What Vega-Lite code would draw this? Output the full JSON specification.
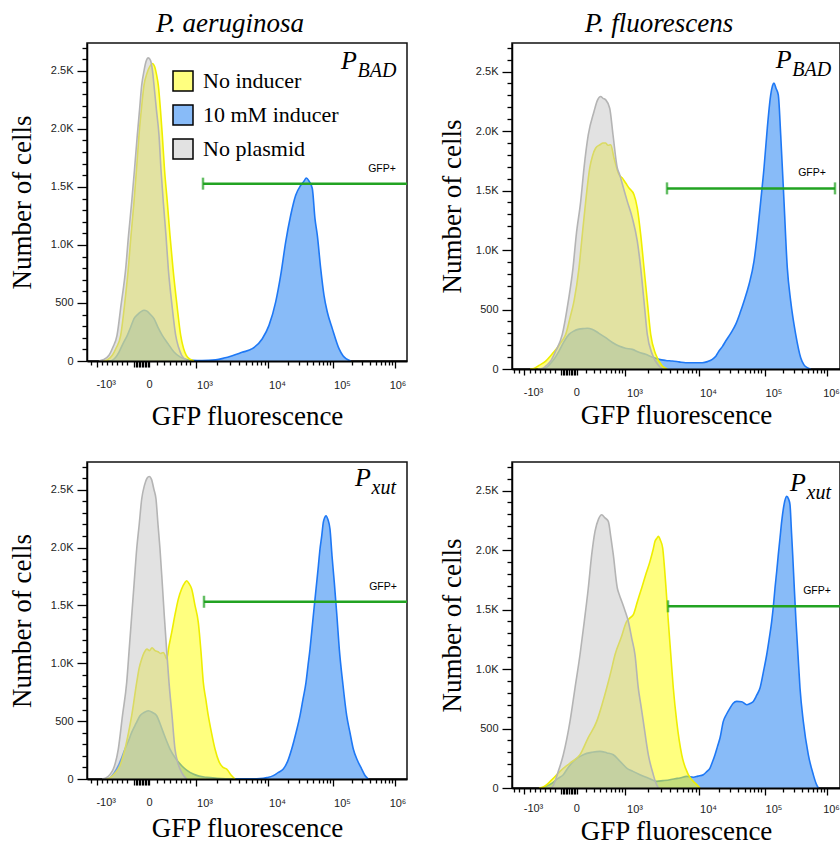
{
"$schema": "https://vega.github.io/schema/vega-lite/v6.json",
"background": "white",
"padding": {"left": 7, "top": 8, "right": 0, "bottom": 0},
"config": {
  "view": {"stroke": "#111", "strokeWidth": 1.5},
  "axis": {"labelFont": "Liberation Sans", "labelFontSize": 11, "labelColor": "#222", "titleFont": "Liberation Serif", "titleFontSize": 27, "titleFontWeight": "normal", "titleColor": "black", "domainColor": "black", "tickColor": "black", "tickWidth": 1.3, "grid": false},
  "axisX": {"domainWidth": 2, "labelPadding": 11},
  "axisY": {"domainWidth": 1.5, "labelPadding": 4},
  "title": {"font": "Liberation Serif", "fontSize": 27, "fontStyle": "italic", "fontWeight": "normal", "color": "black", "dx": -17, "offset": 4},
  "text": {"color": "black"}
},
"datasets": {
"gate": [
{"p":"TL","x1":116,"x2":335,"y":1528},
{"p":"TR","x1":155,"x2":323,"y":1518},
{"p":"BL","x1":117,"x2":335,"y":1532},
{"p":"BR","x1":156,"x2":335,"y":1527}
],
"hist": [
{"p":"TL","s":"No plasmid","x":12,"n":0},{"p":"TL","s":"No plasmid","x":16,"n":10},{"p":"TL","s":"No plasmid","x":22,"n":49},{"p":"TL","s":"No plasmid","x":26,"n":120},{"p":"TL","s":"No plasmid","x":30,"n":221},{"p":"TL","s":"No plasmid","x":34,"n":480},{"p":"TL","s":"No plasmid","x":38.7,"n":796},{"p":"TL","s":"No plasmid","x":41.5,"n":1080},{"p":"TL","s":"No plasmid","x":44.7,"n":1371},{"p":"TL","s":"No plasmid","x":47.5,"n":1650},{"p":"TL","s":"No plasmid","x":50.3,"n":1946},{"p":"TL","s":"No plasmid","x":52.5,"n":2160},{"p":"TL","s":"No plasmid","x":54.7,"n":2377},{"p":"TL","s":"No plasmid","x":57,"n":2500},{"p":"TL","s":"No plasmid","x":59,"n":2580},{"p":"TL","s":"No plasmid","x":61.3,"n":2612},{"p":"TL","s":"No plasmid","x":63.5,"n":2590},{"p":"TL","s":"No plasmid","x":65.5,"n":2500},{"p":"TL","s":"No plasmid","x":67,"n":2377},{"p":"TL","s":"No plasmid","x":69.5,"n":2160},{"p":"TL","s":"No plasmid","x":72,"n":1946},{"p":"TL","s":"No plasmid","x":74,"n":1650},{"p":"TL","s":"No plasmid","x":76.3,"n":1371},{"p":"TL","s":"No plasmid","x":79,"n":1080},{"p":"TL","s":"No plasmid","x":81.3,"n":796},{"p":"TL","s":"No plasmid","x":85,"n":480},{"p":"TL","s":"No plasmid","x":88.7,"n":221},{"p":"TL","s":"No plasmid","x":91.5,"n":120},{"p":"TL","s":"No plasmid","x":94.7,"n":49},{"p":"TL","s":"No plasmid","x":98.7,"n":10},{"p":"TL","s":"No plasmid","x":102,"n":0},
{"p":"TL","s":"No inducer","x":16,"n":0},{"p":"TL","s":"No inducer","x":20,"n":8},{"p":"TL","s":"No inducer","x":25.3,"n":49},{"p":"TL","s":"No inducer","x":29,"n":110},{"p":"TL","s":"No inducer","x":33.7,"n":221},{"p":"TL","s":"No inducer","x":37.5,"n":480},{"p":"TL","s":"No inducer","x":41.3,"n":796},{"p":"TL","s":"No inducer","x":44,"n":1080},{"p":"TL","s":"No inducer","x":47,"n":1371},{"p":"TL","s":"No inducer","x":49.5,"n":1650},{"p":"TL","s":"No inducer","x":52,"n":1946},{"p":"TL","s":"No inducer","x":54.5,"n":2180},{"p":"TL","s":"No inducer","x":57,"n":2377},{"p":"TL","s":"No inducer","x":60,"n":2480},{"p":"TL","s":"No inducer","x":63,"n":2540},{"p":"TL","s":"No inducer","x":65.3,"n":2563},{"p":"TL","s":"No inducer","x":67.5,"n":2540},{"p":"TL","s":"No inducer","x":69.5,"n":2470},{"p":"TL","s":"No inducer","x":71.3,"n":2377},{"p":"TL","s":"No inducer","x":73.5,"n":2160},{"p":"TL","s":"No inducer","x":75.3,"n":1946},{"p":"TL","s":"No inducer","x":77.5,"n":1650},{"p":"TL","s":"No inducer","x":80.3,"n":1371},{"p":"TL","s":"No inducer","x":83,"n":1080},{"p":"TL","s":"No inducer","x":86,"n":796},{"p":"TL","s":"No inducer","x":90,"n":480},{"p":"TL","s":"No inducer","x":93.7,"n":221},{"p":"TL","s":"No inducer","x":96.5,"n":110},{"p":"TL","s":"No inducer","x":99.3,"n":49},{"p":"TL","s":"No inducer","x":103,"n":15},{"p":"TL","s":"No inducer","x":107,"n":0},
{"p":"TL","s":"10 mM inducer","x":22,"n":0},{"p":"TL","s":"10 mM inducer","x":25,"n":5},{"p":"TL","s":"10 mM inducer","x":28.5,"n":30},{"p":"TL","s":"10 mM inducer","x":32,"n":77},{"p":"TL","s":"10 mM inducer","x":36,"n":150},{"p":"TL","s":"10 mM inducer","x":40.3,"n":221},{"p":"TL","s":"10 mM inducer","x":44,"n":300},{"p":"TL","s":"10 mM inducer","x":47,"n":365},{"p":"TL","s":"10 mM inducer","x":50.5,"n":400},{"p":"TL","s":"10 mM inducer","x":54,"n":425},{"p":"TL","s":"10 mM inducer","x":57,"n":437},{"p":"TL","s":"10 mM inducer","x":60,"n":430},{"p":"TL","s":"10 mM inducer","x":63,"n":405},{"p":"TL","s":"10 mM inducer","x":67,"n":365},{"p":"TL","s":"10 mM inducer","x":71,"n":290},{"p":"TL","s":"10 mM inducer","x":75.3,"n":221},{"p":"TL","s":"10 mM inducer","x":81,"n":150},{"p":"TL","s":"10 mM inducer","x":87,"n":77},{"p":"TL","s":"10 mM inducer","x":93,"n":35},{"p":"TL","s":"10 mM inducer","x":98.7,"n":15},{"p":"TL","s":"10 mM inducer","x":105,"n":6},{"p":"TL","s":"10 mM inducer","x":115,"n":4},{"p":"TL","s":"10 mM inducer","x":128.7,"n":10},{"p":"TL","s":"10 mM inducer","x":137,"n":25},{"p":"TL","s":"10 mM inducer","x":145.3,"n":46},{"p":"TL","s":"10 mM inducer","x":155,"n":75},{"p":"TL","s":"10 mM inducer","x":165.3,"n":106},{"p":"TL","s":"10 mM inducer","x":175.3,"n":192},{"p":"TL","s":"10 mM inducer","x":182,"n":307},{"p":"TL","s":"10 mM inducer","x":188.7,"n":509},{"p":"TL","s":"10 mM inducer","x":193.7,"n":739},{"p":"TL","s":"10 mM inducer","x":198.7,"n":1027},{"p":"TL","s":"10 mM inducer","x":203.7,"n":1256},{"p":"TL","s":"10 mM inducer","x":208.7,"n":1428},{"p":"TL","s":"10 mM inducer","x":213.7,"n":1514},{"p":"TL","s":"10 mM inducer","x":217,"n":1550},{"p":"TL","s":"10 mM inducer","x":219.3,"n":1577},{"p":"TL","s":"10 mM inducer","x":222,"n":1550},{"p":"TL","s":"10 mM inducer","x":225.3,"n":1486},{"p":"TL","s":"10 mM inducer","x":228,"n":1225},{"p":"TL","s":"10 mM inducer","x":230.3,"n":1084},{"p":"TL","s":"10 mM inducer","x":233.7,"n":796},{"p":"TL","s":"10 mM inducer","x":237,"n":566},{"p":"TL","s":"10 mM inducer","x":240.3,"n":422},{"p":"TL","s":"10 mM inducer","x":245.3,"n":279},{"p":"TL","s":"10 mM inducer","x":252,"n":106},{"p":"TL","s":"10 mM inducer","x":256,"n":45},{"p":"TL","s":"10 mM inducer","x":259,"n":20},{"p":"TL","s":"10 mM inducer","x":263.7,"n":0},
{"p":"TR","s":"No plasmid","x":26,"n":0},{"p":"TR","s":"No plasmid","x":30.3,"n":5},{"p":"TR","s":"No plasmid","x":34.5,"n":30},{"p":"TR","s":"No plasmid","x":38.7,"n":67},{"p":"TR","s":"No plasmid","x":43.7,"n":151},{"p":"TR","s":"No plasmid","x":50.3,"n":291},{"p":"TR","s":"No plasmid","x":56.3,"n":570},{"p":"TR","s":"No plasmid","x":61,"n":850},{"p":"TR","s":"No plasmid","x":64.3,"n":1130},{"p":"TR","s":"No plasmid","x":68.7,"n":1409},{"p":"TR","s":"No plasmid","x":72,"n":1689},{"p":"TR","s":"No plasmid","x":76.3,"n":1969},{"p":"TR","s":"No plasmid","x":82,"n":2164},{"p":"TR","s":"No plasmid","x":85.5,"n":2260},{"p":"TR","s":"No plasmid","x":88.7,"n":2290},{"p":"TR","s":"No plasmid","x":91,"n":2275},{"p":"TR","s":"No plasmid","x":93.7,"n":2262},{"p":"TR","s":"No plasmid","x":97.7,"n":2192},{"p":"TR","s":"No plasmid","x":101,"n":1969},{"p":"TR","s":"No plasmid","x":105.3,"n":1689},{"p":"TR","s":"No plasmid","x":107.7,"n":1633},{"p":"TR","s":"No plasmid","x":111.5,"n":1520},{"p":"TR","s":"No plasmid","x":115.3,"n":1409},{"p":"TR","s":"No plasmid","x":120.3,"n":1270},{"p":"TR","s":"No plasmid","x":125.3,"n":1074},{"p":"TR","s":"No plasmid","x":128.7,"n":850},{"p":"TR","s":"No plasmid","x":132,"n":570},{"p":"TR","s":"No plasmid","x":135.3,"n":291},{"p":"TR","s":"No plasmid","x":140.3,"n":123},{"p":"TR","s":"No plasmid","x":147,"n":25},{"p":"TR","s":"No plasmid","x":150.3,"n":0},
{"p":"TR","s":"No inducer","x":18,"n":0},{"p":"TR","s":"No inducer","x":22,"n":5},{"p":"TR","s":"No inducer","x":27,"n":30},{"p":"TR","s":"No inducer","x":33.7,"n":67},{"p":"TR","s":"No inducer","x":39.5,"n":120},{"p":"TR","s":"No inducer","x":45.3,"n":179},{"p":"TR","s":"No inducer","x":49.5,"n":230},{"p":"TR","s":"No inducer","x":53.7,"n":291},{"p":"TR","s":"No inducer","x":58,"n":430},{"p":"TR","s":"No inducer","x":62,"n":570},{"p":"TR","s":"No inducer","x":67,"n":850},{"p":"TR","s":"No inducer","x":70.3,"n":1130},{"p":"TR","s":"No inducer","x":73.7,"n":1409},{"p":"TR","s":"No inducer","x":77.7,"n":1689},{"p":"TR","s":"No inducer","x":80.5,"n":1790},{"p":"TR","s":"No inducer","x":83.7,"n":1857},{"p":"TR","s":"No inducer","x":88,"n":1885},{"p":"TR","s":"No inducer","x":91,"n":1900},{"p":"TR","s":"No inducer","x":93.7,"n":1899},{"p":"TR","s":"No inducer","x":96,"n":1880},{"p":"TR","s":"No inducer","x":98.7,"n":1885},{"p":"TR","s":"No inducer","x":102,"n":1773},{"p":"TR","s":"No inducer","x":107,"n":1633},{"p":"TR","s":"No inducer","x":110.3,"n":1605},{"p":"TR","s":"No inducer","x":113.7,"n":1563},{"p":"TR","s":"No inducer","x":117,"n":1521},{"p":"TR","s":"No inducer","x":122,"n":1465},{"p":"TR","s":"No inducer","x":125.3,"n":1353},{"p":"TR","s":"No inducer","x":128.7,"n":1130},{"p":"TR","s":"No inducer","x":132,"n":850},{"p":"TR","s":"No inducer","x":135.3,"n":570},{"p":"TR","s":"No inducer","x":138.7,"n":291},{"p":"TR","s":"No inducer","x":143.7,"n":123},{"p":"TR","s":"No inducer","x":150.3,"n":25},{"p":"TR","s":"No inducer","x":155.3,"n":0},
{"p":"TR","s":"10 mM inducer","x":30,"n":0},{"p":"TR","s":"10 mM inducer","x":33.7,"n":8},{"p":"TR","s":"10 mM inducer","x":40,"n":60},{"p":"TR","s":"10 mM inducer","x":47,"n":151},{"p":"TR","s":"10 mM inducer","x":52,"n":230},{"p":"TR","s":"10 mM inducer","x":57,"n":291},{"p":"TR","s":"10 mM inducer","x":62,"n":320},{"p":"TR","s":"10 mM inducer","x":67,"n":335},{"p":"TR","s":"10 mM inducer","x":72,"n":340},{"p":"TR","s":"10 mM inducer","x":75.3,"n":342},{"p":"TR","s":"10 mM inducer","x":80,"n":335},{"p":"TR","s":"10 mM inducer","x":87,"n":300},{"p":"TR","s":"10 mM inducer","x":93.7,"n":263},{"p":"TR","s":"10 mM inducer","x":100,"n":225},{"p":"TR","s":"10 mM inducer","x":107,"n":193},{"p":"TR","s":"10 mM inducer","x":113.5,"n":175},{"p":"TR","s":"10 mM inducer","x":120.3,"n":165},{"p":"TR","s":"10 mM inducer","x":127,"n":140},{"p":"TR","s":"10 mM inducer","x":133.7,"n":123},{"p":"TR","s":"10 mM inducer","x":140,"n":100},{"p":"TR","s":"10 mM inducer","x":147,"n":81},{"p":"TR","s":"10 mM inducer","x":153.7,"n":72},{"p":"TR","s":"10 mM inducer","x":160.3,"n":67},{"p":"TR","s":"10 mM inducer","x":167,"n":60},{"p":"TR","s":"10 mM inducer","x":173.7,"n":53},{"p":"TR","s":"10 mM inducer","x":182,"n":52},{"p":"TR","s":"10 mM inducer","x":190.3,"n":53},{"p":"TR","s":"10 mM inducer","x":195.5,"n":62},{"p":"TR","s":"10 mM inducer","x":200.3,"n":81},{"p":"TR","s":"10 mM inducer","x":204,"n":110},{"p":"TR","s":"10 mM inducer","x":207,"n":151},{"p":"TR","s":"10 mM inducer","x":210.5,"n":190},{"p":"TR","s":"10 mM inducer","x":213.7,"n":235},{"p":"TR","s":"10 mM inducer","x":218.7,"n":300},{"p":"TR","s":"10 mM inducer","x":223.7,"n":375},{"p":"TR","s":"10 mM inducer","x":228,"n":470},{"p":"TR","s":"10 mM inducer","x":232,"n":570},{"p":"TR","s":"10 mM inducer","x":237,"n":710},{"p":"TR","s":"10 mM inducer","x":242,"n":906},{"p":"TR","s":"10 mM inducer","x":245.3,"n":1130},{"p":"TR","s":"10 mM inducer","x":248.7,"n":1409},{"p":"TR","s":"10 mM inducer","x":252,"n":1689},{"p":"TR","s":"10 mM inducer","x":255.3,"n":2025},{"p":"TR","s":"10 mM inducer","x":258.7,"n":2304},{"p":"TR","s":"10 mM inducer","x":260.5,"n":2380},{"p":"TR","s":"10 mM inducer","x":262,"n":2403},{"p":"TR","s":"10 mM inducer","x":264,"n":2360},{"p":"TR","s":"10 mM inducer","x":266.3,"n":2304},{"p":"TR","s":"10 mM inducer","x":268.7,"n":1969},{"p":"TR","s":"10 mM inducer","x":272,"n":1409},{"p":"TR","s":"10 mM inducer","x":275.3,"n":850},{"p":"TR","s":"10 mM inducer","x":278.7,"n":570},{"p":"TR","s":"10 mM inducer","x":283.7,"n":291},{"p":"TR","s":"10 mM inducer","x":288.7,"n":95},{"p":"TR","s":"10 mM inducer","x":292,"n":35},{"p":"TR","s":"10 mM inducer","x":295.3,"n":11},{"p":"TR","s":"10 mM inducer","x":299,"n":0},
{"p":"BL","s":"No plasmid","x":15,"n":0},{"p":"BL","s":"No plasmid","x":19,"n":10},{"p":"BL","s":"No plasmid","x":26.3,"n":86},{"p":"BL","s":"No plasmid","x":31.3,"n":259},{"p":"BL","s":"No plasmid","x":35.5,"n":550},{"p":"BL","s":"No plasmid","x":39.7,"n":835},{"p":"BL","s":"No plasmid","x":42.2,"n":1120},{"p":"BL","s":"No plasmid","x":44.7,"n":1411},{"p":"BL","s":"No plasmid","x":47.2,"n":1700},{"p":"BL","s":"No plasmid","x":49.7,"n":1988},{"p":"BL","s":"No plasmid","x":52.2,"n":2200},{"p":"BL","s":"No plasmid","x":54.7,"n":2420},{"p":"BL","s":"No plasmid","x":57.5,"n":2540},{"p":"BL","s":"No plasmid","x":60,"n":2600},{"p":"BL","s":"No plasmid","x":62.3,"n":2615},{"p":"BL","s":"No plasmid","x":64.5,"n":2590},{"p":"BL","s":"No plasmid","x":67,"n":2500},{"p":"BL","s":"No plasmid","x":69,"n":2420},{"p":"BL","s":"No plasmid","x":71,"n":2200},{"p":"BL","s":"No plasmid","x":73,"n":1988},{"p":"BL","s":"No plasmid","x":75.2,"n":1700},{"p":"BL","s":"No plasmid","x":77.3,"n":1411},{"p":"BL","s":"No plasmid","x":79.6,"n":1120},{"p":"BL","s":"No plasmid","x":82,"n":835},{"p":"BL","s":"No plasmid","x":85,"n":550},{"p":"BL","s":"No plasmid","x":88,"n":259},{"p":"BL","s":"No plasmid","x":90.5,"n":150},{"p":"BL","s":"No plasmid","x":93,"n":86},{"p":"BL","s":"No plasmid","x":96.5,"n":30},{"p":"BL","s":"No plasmid","x":99.7,"n":0},
{"p":"BL","s":"No inducer","x":19,"n":0},{"p":"BL","s":"No inducer","x":23,"n":10},{"p":"BL","s":"No inducer","x":28,"n":50},{"p":"BL","s":"No inducer","x":33,"n":115},{"p":"BL","s":"No inducer","x":38,"n":259},{"p":"BL","s":"No inducer","x":41.5,"n":400},{"p":"BL","s":"No inducer","x":44.7,"n":547},{"p":"BL","s":"No inducer","x":49.7,"n":835},{"p":"BL","s":"No inducer","x":52.2,"n":960},{"p":"BL","s":"No inducer","x":54.7,"n":1037},{"p":"BL","s":"No inducer","x":57,"n":1090},{"p":"BL","s":"No inducer","x":60,"n":1123},{"p":"BL","s":"No inducer","x":62.5,"n":1110},{"p":"BL","s":"No inducer","x":65,"n":1135},{"p":"BL","s":"No inducer","x":68,"n":1110},{"p":"BL","s":"No inducer","x":71,"n":1100},{"p":"BL","s":"No inducer","x":73.5,"n":1085},{"p":"BL","s":"No inducer","x":76.3,"n":1094},{"p":"BL","s":"No inducer","x":78,"n":1070},{"p":"BL","s":"No inducer","x":79.7,"n":1037},{"p":"BL","s":"No inducer","x":82,"n":1150},{"p":"BL","s":"No inducer","x":84.7,"n":1267},{"p":"BL","s":"No inducer","x":88,"n":1420},{"p":"BL","s":"No inducer","x":91.3,"n":1555},{"p":"BL","s":"No inducer","x":94.5,"n":1640},{"p":"BL","s":"No inducer","x":98,"n":1699},{"p":"BL","s":"No inducer","x":99.7,"n":1714},{"p":"BL","s":"No inducer","x":102,"n":1690},{"p":"BL","s":"No inducer","x":104.7,"n":1642},{"p":"BL","s":"No inducer","x":108,"n":1500},{"p":"BL","s":"No inducer","x":111.3,"n":1354},{"p":"BL","s":"No inducer","x":114,"n":1100},{"p":"BL","s":"No inducer","x":116.3,"n":835},{"p":"BL","s":"No inducer","x":118.8,"n":690},{"p":"BL","s":"No inducer","x":121.3,"n":547},{"p":"BL","s":"No inducer","x":124.5,"n":400},{"p":"BL","s":"No inducer","x":128,"n":259},{"p":"BL","s":"No inducer","x":132,"n":150},{"p":"BL","s":"No inducer","x":136,"n":100},{"p":"BL","s":"No inducer","x":139.7,"n":86},{"p":"BL","s":"No inducer","x":144,"n":35},{"p":"BL","s":"No inducer","x":148,"n":0},
{"p":"BL","s":"10 mM inducer","x":19,"n":0},{"p":"BL","s":"10 mM inducer","x":23,"n":10},{"p":"BL","s":"10 mM inducer","x":27,"n":50},{"p":"BL","s":"10 mM inducer","x":31.3,"n":115},{"p":"BL","s":"10 mM inducer","x":34.5,"n":180},{"p":"BL","s":"10 mM inducer","x":38,"n":259},{"p":"BL","s":"10 mM inducer","x":41.5,"n":330},{"p":"BL","s":"10 mM inducer","x":44.7,"n":403},{"p":"BL","s":"10 mM inducer","x":49,"n":480},{"p":"BL","s":"10 mM inducer","x":53,"n":547},{"p":"BL","s":"10 mM inducer","x":57,"n":575},{"p":"BL","s":"10 mM inducer","x":61.3,"n":590},{"p":"BL","s":"10 mM inducer","x":65.5,"n":575},{"p":"BL","s":"10 mM inducer","x":69.7,"n":547},{"p":"BL","s":"10 mM inducer","x":73,"n":480},{"p":"BL","s":"10 mM inducer","x":76.3,"n":403},{"p":"BL","s":"10 mM inducer","x":79.5,"n":330},{"p":"BL","s":"10 mM inducer","x":83,"n":259},{"p":"BL","s":"10 mM inducer","x":88.5,"n":180},{"p":"BL","s":"10 mM inducer","x":94.7,"n":115},{"p":"BL","s":"10 mM inducer","x":100,"n":75},{"p":"BL","s":"10 mM inducer","x":106.3,"n":43},{"p":"BL","s":"10 mM inducer","x":112,"n":25},{"p":"BL","s":"10 mM inducer","x":119.7,"n":14},{"p":"BL","s":"10 mM inducer","x":130,"n":7},{"p":"BL","s":"10 mM inducer","x":146,"n":2},{"p":"BL","s":"10 mM inducer","x":160,"n":2},{"p":"BL","s":"10 mM inducer","x":173,"n":3},{"p":"BL","s":"10 mM inducer","x":180,"n":12},{"p":"BL","s":"10 mM inducer","x":186.3,"n":29},{"p":"BL","s":"10 mM inducer","x":191,"n":55},{"p":"BL","s":"10 mM inducer","x":196.3,"n":86},{"p":"BL","s":"10 mM inducer","x":200.5,"n":150},{"p":"BL","s":"10 mM inducer","x":204.7,"n":259},{"p":"BL","s":"10 mM inducer","x":209,"n":400},{"p":"BL","s":"10 mM inducer","x":213,"n":547},{"p":"BL","s":"10 mM inducer","x":216,"n":690},{"p":"BL","s":"10 mM inducer","x":219,"n":835},{"p":"BL","s":"10 mM inducer","x":221,"n":980},{"p":"BL","s":"10 mM inducer","x":223,"n":1123},{"p":"BL","s":"10 mM inducer","x":224.7,"n":1270},{"p":"BL","s":"10 mM inducer","x":226.3,"n":1411},{"p":"BL","s":"10 mM inducer","x":228,"n":1555},{"p":"BL","s":"10 mM inducer","x":229.7,"n":1699},{"p":"BL","s":"10 mM inducer","x":231.4,"n":1845},{"p":"BL","s":"10 mM inducer","x":233,"n":1988},{"p":"BL","s":"10 mM inducer","x":234.7,"n":2100},{"p":"BL","s":"10 mM inducer","x":236.3,"n":2218},{"p":"BL","s":"10 mM inducer","x":237.7,"n":2260},{"p":"BL","s":"10 mM inducer","x":239,"n":2276},{"p":"BL","s":"10 mM inducer","x":241,"n":2240},{"p":"BL","s":"10 mM inducer","x":243,"n":2160},{"p":"BL","s":"10 mM inducer","x":245,"n":1930},{"p":"BL","s":"10 mM inducer","x":247.3,"n":1699},{"p":"BL","s":"10 mM inducer","x":250,"n":1400},{"p":"BL","s":"10 mM inducer","x":252.3,"n":1123},{"p":"BL","s":"10 mM inducer","x":255.7,"n":835},{"p":"BL","s":"10 mM inducer","x":259.7,"n":547},{"p":"BL","s":"10 mM inducer","x":263,"n":400},{"p":"BL","s":"10 mM inducer","x":266.3,"n":259},{"p":"BL","s":"10 mM inducer","x":270.5,"n":160},{"p":"BL","s":"10 mM inducer","x":274.7,"n":86},{"p":"BL","s":"10 mM inducer","x":278,"n":30},{"p":"BL","s":"10 mM inducer","x":281.3,"n":0},
{"p":"BR","s":"No plasmid","x":36,"n":0},{"p":"BR","s":"No plasmid","x":39.7,"n":5},{"p":"BR","s":"No plasmid","x":46.3,"n":140},{"p":"BR","s":"No plasmid","x":51.3,"n":280},{"p":"BR","s":"No plasmid","x":58,"n":560},{"p":"BR","s":"No plasmid","x":63,"n":840},{"p":"BR","s":"No plasmid","x":68,"n":1120},{"p":"BR","s":"No plasmid","x":72.3,"n":1401},{"p":"BR","s":"No plasmid","x":76.3,"n":1681},{"p":"BR","s":"No plasmid","x":79.7,"n":1961},{"p":"BR","s":"No plasmid","x":83,"n":2157},{"p":"BR","s":"No plasmid","x":86.5,"n":2260},{"p":"BR","s":"No plasmid","x":89.7,"n":2297},{"p":"BR","s":"No plasmid","x":93,"n":2270},{"p":"BR","s":"No plasmid","x":96.3,"n":2241},{"p":"BR","s":"No plasmid","x":99,"n":2100},{"p":"BR","s":"No plasmid","x":101.3,"n":1961},{"p":"BR","s":"No plasmid","x":105.3,"n":1681},{"p":"BR","s":"No plasmid","x":107.5,"n":1620},{"p":"BR","s":"No plasmid","x":109.7,"n":1569},{"p":"BR","s":"No plasmid","x":113,"n":1490},{"p":"BR","s":"No plasmid","x":116.3,"n":1401},{"p":"BR","s":"No plasmid","x":119.7,"n":1260},{"p":"BR","s":"No plasmid","x":123,"n":1120},{"p":"BR","s":"No plasmid","x":126.3,"n":840},{"p":"BR","s":"No plasmid","x":128.8,"n":700},{"p":"BR","s":"No plasmid","x":131.3,"n":560},{"p":"BR","s":"No plasmid","x":136.3,"n":280},{"p":"BR","s":"No plasmid","x":141.3,"n":112},{"p":"BR","s":"No plasmid","x":144,"n":40},{"p":"BR","s":"No plasmid","x":146.3,"n":0},
{"p":"BR","s":"No inducer","x":27,"n":0},{"p":"BR","s":"No inducer","x":31.3,"n":8},{"p":"BR","s":"No inducer","x":40,"n":70},{"p":"BR","s":"No inducer","x":48,"n":140},{"p":"BR","s":"No inducer","x":58,"n":210},{"p":"BR","s":"No inducer","x":68,"n":280},{"p":"BR","s":"No inducer","x":76,"n":420},{"p":"BR","s":"No inducer","x":84.7,"n":560},{"p":"BR","s":"No inducer","x":90,"n":700},{"p":"BR","s":"No inducer","x":94.7,"n":840},{"p":"BR","s":"No inducer","x":99,"n":980},{"p":"BR","s":"No inducer","x":103,"n":1120},{"p":"BR","s":"No inducer","x":109,"n":1260},{"p":"BR","s":"No inducer","x":114.7,"n":1401},{"p":"BR","s":"No inducer","x":118,"n":1430},{"p":"BR","s":"No inducer","x":121.3,"n":1457},{"p":"BR","s":"No inducer","x":125.5,"n":1570},{"p":"BR","s":"No inducer","x":129.7,"n":1681},{"p":"BR","s":"No inducer","x":134,"n":1800},{"p":"BR","s":"No inducer","x":138,"n":1905},{"p":"BR","s":"No inducer","x":141,"n":2000},{"p":"BR","s":"No inducer","x":143,"n":2073},{"p":"BR","s":"No inducer","x":145,"n":2100},{"p":"BR","s":"No inducer","x":146.3,"n":2115},{"p":"BR","s":"No inducer","x":148.5,"n":2080},{"p":"BR","s":"No inducer","x":150.7,"n":2017},{"p":"BR","s":"No inducer","x":152.5,"n":1850},{"p":"BR","s":"No inducer","x":154,"n":1681},{"p":"BR","s":"No inducer","x":156.3,"n":1401},{"p":"BR","s":"No inducer","x":158.8,"n":1120},{"p":"BR","s":"No inducer","x":161.3,"n":840},{"p":"BR","s":"No inducer","x":164.7,"n":560},{"p":"BR","s":"No inducer","x":169.7,"n":280},{"p":"BR","s":"No inducer","x":176.3,"n":112},{"p":"BR","s":"No inducer","x":184.7,"n":28},{"p":"BR","s":"No inducer","x":188,"n":0},
{"p":"BR","s":"10 mM inducer","x":30,"n":0},{"p":"BR","s":"10 mM inducer","x":33,"n":10},{"p":"BR","s":"10 mM inducer","x":40,"n":40},{"p":"BR","s":"10 mM inducer","x":46,"n":80},{"p":"BR","s":"10 mM inducer","x":51.3,"n":112},{"p":"BR","s":"10 mM inducer","x":56,"n":170},{"p":"BR","s":"10 mM inducer","x":61.3,"n":224},{"p":"BR","s":"10 mM inducer","x":66,"n":255},{"p":"BR","s":"10 mM inducer","x":71.3,"n":280},{"p":"BR","s":"10 mM inducer","x":80,"n":300},{"p":"BR","s":"10 mM inducer","x":88,"n":308},{"p":"BR","s":"10 mM inducer","x":95,"n":295},{"p":"BR","s":"10 mM inducer","x":101.3,"n":280},{"p":"BR","s":"10 mM inducer","x":108,"n":225},{"p":"BR","s":"10 mM inducer","x":114.7,"n":168},{"p":"BR","s":"10 mM inducer","x":121,"n":140},{"p":"BR","s":"10 mM inducer","x":128,"n":112},{"p":"BR","s":"10 mM inducer","x":136,"n":85},{"p":"BR","s":"10 mM inducer","x":144.7,"n":56},{"p":"BR","s":"10 mM inducer","x":151,"n":62},{"p":"BR","s":"10 mM inducer","x":158,"n":70},{"p":"BR","s":"10 mM inducer","x":163,"n":78},{"p":"BR","s":"10 mM inducer","x":168,"n":84},{"p":"BR","s":"10 mM inducer","x":174.7,"n":98},{"p":"BR","s":"10 mM inducer","x":181.3,"n":90},{"p":"BR","s":"10 mM inducer","x":186,"n":100},{"p":"BR","s":"10 mM inducer","x":191.3,"n":112},{"p":"BR","s":"10 mM inducer","x":195,"n":140},{"p":"BR","s":"10 mM inducer","x":198,"n":168},{"p":"BR","s":"10 mM inducer","x":200.5,"n":220},{"p":"BR","s":"10 mM inducer","x":203,"n":280},{"p":"BR","s":"10 mM inducer","x":205.5,"n":350},{"p":"BR","s":"10 mM inducer","x":208,"n":420},{"p":"BR","s":"10 mM inducer","x":211.3,"n":560},{"p":"BR","s":"10 mM inducer","x":214.5,"n":620},{"p":"BR","s":"10 mM inducer","x":218,"n":672},{"p":"BR","s":"10 mM inducer","x":221,"n":710},{"p":"BR","s":"10 mM inducer","x":224.7,"n":728},{"p":"BR","s":"10 mM inducer","x":229.7,"n":725},{"p":"BR","s":"10 mM inducer","x":234.7,"n":700},{"p":"BR","s":"10 mM inducer","x":238,"n":710},{"p":"BR","s":"10 mM inducer","x":241.3,"n":728},{"p":"BR","s":"10 mM inducer","x":244.7,"n":780},{"p":"BR","s":"10 mM inducer","x":248,"n":840},{"p":"BR","s":"10 mM inducer","x":251.5,"n":980},{"p":"BR","s":"10 mM inducer","x":254.7,"n":1120},{"p":"BR","s":"10 mM inducer","x":257.3,"n":1260},{"p":"BR","s":"10 mM inducer","x":259.7,"n":1401},{"p":"BR","s":"10 mM inducer","x":261.5,"n":1540},{"p":"BR","s":"10 mM inducer","x":263,"n":1681},{"p":"BR","s":"10 mM inducer","x":264.7,"n":1820},{"p":"BR","s":"10 mM inducer","x":266.3,"n":1961},{"p":"BR","s":"10 mM inducer","x":268,"n":2100},{"p":"BR","s":"10 mM inducer","x":269.7,"n":2241},{"p":"BR","s":"10 mM inducer","x":272,"n":2380},{"p":"BR","s":"10 mM inducer","x":274.7,"n":2451},{"p":"BR","s":"10 mM inducer","x":276.5,"n":2430},{"p":"BR","s":"10 mM inducer","x":278,"n":2381},{"p":"BR","s":"10 mM inducer","x":279.5,"n":2150},{"p":"BR","s":"10 mM inducer","x":280.7,"n":1961},{"p":"BR","s":"10 mM inducer","x":282.3,"n":1680},{"p":"BR","s":"10 mM inducer","x":284,"n":1401},{"p":"BR","s":"10 mM inducer","x":286,"n":1120},{"p":"BR","s":"10 mM inducer","x":288,"n":840},{"p":"BR","s":"10 mM inducer","x":291.3,"n":560},{"p":"BR","s":"10 mM inducer","x":296.3,"n":280},{"p":"BR","s":"10 mM inducer","x":301.3,"n":112},{"p":"BR","s":"10 mM inducer","x":304,"n":40},{"p":"BR","s":"10 mM inducer","x":306.3,"n":0}
]
},
"spacing": 28,
"vconcat": [
{"spacing": 29,
 "hconcat": [
 {"width": 320, "height": 318,
  "title": {"text": "P. aeruginosa"},
  "layer": [
   {"data": {"name": "hist"}, "transform": [{"filter": "datum.p == 'TL'"}],
    "encoding": {
     "x": {"field": "x", "type": "quantitative", "scale": {"domain": [0, 320], "nice": false, "zero": false}, "axis": {"title": "GFP fluorescence", "titlePadding": 13.5, "labelFlush": false, "labelOverlap": false, "zindex": 1, "values": [3.7,9.7,15.3,20.3,25.3,30.3,35.3,39.7,47,48.5,50,51.5,53,54.5,56,57.5,59,60.5,62,70.3,77,83,88.7,93.7,98.7,103,108.5,130.3,143.1,152.1,159.2,164.9,169.8,174,177.7,181,200.6,212,220.1,226.4,231.6,235.9,239.7,243,246,264.5,275.3,283,289,293.9,298,301.5,304.7,307.5], "labelExpr": "datum.value == 9.7 ? '-10³' : datum.value == 53 ? '0' : datum.value == 108.5 ? '10³' : datum.value == 181 ? '10⁴' : datum.value == 246 ? '10⁵' : datum.value == 307.5 ? '10⁶' : ''", "tickSize": {"condition": [{"test": "datum.value == 108.5 || datum.value == 181 || datum.value == 246 || datum.value == 307.5", "value": 7}, {"test": "datum.value == 9.7 || (datum.value >= 46 && datum.value <= 63)", "value": 6}], "value": 4}, "labelOffset": {"condition": {"test": "datum.value == 307.5", "value": 3}, "value": 9}}},
     "y": {"field": "n", "type": "quantitative", "stack": null, "scale": {"domain": [0, 2740], "nice": false}, "axis": {"title": "Number of cells", "titlePadding": 14, "labelOverlap": false, "zindex": 1, "values": [0,100,200,300,400,500,600,700,800,900,1000,1100,1200,1300,1400,1500,1600,1700,1800,1900,2000,2100,2200,2300,2400,2500,2600,2700], "labelExpr": "datum.value % 500 != 0 ? '' : datum.value == 0 ? '0' : datum.value == 500 ? '500' : format(datum.value / 1000, '.1f') + 'K'", "tickSize": {"condition": {"test": "datum.value % 500 == 0", "value": 10}, "value": 5}}}
    },
    "layer": [
     {"transform": [{"filter": "datum.s == '10 mM inducer'"}], "mark": {"type": "area", "interpolate": "monotone"},
      "encoding": {"fill": {"field": "s", "type": "nominal", "scale": {"domain": ["No inducer", "10 mM inducer", "No plasmid"], "range": ["rgba(255,255,0,0.5)", "#88bbf8", "rgba(198,198,198,0.5)"]},
       "legend": {"orient": "none", "legendX": 85, "legendY": 27, "title": null, "symbolType": "square", "symbolSize": 400, "symbolStrokeColor": "black", "symbolStrokeWidth": 1.5, "symbolOpacity": 1, "labelFont": "Liberation Serif", "labelFontSize": 22, "labelColor": "black", "rowPadding": 8, "labelOffset": 9, "padding": 0}}}},
     {"transform": [{"filter": "datum.s == '10 mM inducer'"}], "mark": {"type": "line", "interpolate": "monotone", "color": "#1e78f5", "strokeWidth": 1.6}},
     {"transform": [{"filter": "datum.s == 'No inducer'"}], "mark": {"type": "area", "interpolate": "monotone"},
      "encoding": {"fill": {"field": "s", "type": "nominal", "scale": {"domain": ["No inducer", "10 mM inducer", "No plasmid"], "range": ["rgba(255,255,0,0.5)", "#88bbf8", "rgba(198,198,198,0.5)"]},
       "legend": {"orient": "none", "legendX": 85, "legendY": 27, "title": null, "symbolType": "square", "symbolSize": 400, "symbolStrokeColor": "black", "symbolStrokeWidth": 1.5, "symbolOpacity": 1, "labelFont": "Liberation Serif", "labelFontSize": 22, "labelColor": "black", "rowPadding": 8, "labelOffset": 9, "padding": 0}}}},
     {"transform": [{"filter": "datum.s == 'No inducer'"}], "mark": {"type": "line", "interpolate": "monotone", "color": "#eeee00", "strokeWidth": 1.6}},
     {"transform": [{"filter": "datum.s == 'No plasmid'"}], "mark": {"type": "area", "interpolate": "monotone"},
      "encoding": {"fill": {"field": "s", "type": "nominal", "scale": {"domain": ["No inducer", "10 mM inducer", "No plasmid"], "range": ["rgba(255,255,0,0.5)", "#88bbf8", "rgba(198,198,198,0.5)"]},
       "legend": {"orient": "none", "legendX": 85, "legendY": 27, "title": null, "symbolType": "square", "symbolSize": 400, "symbolStrokeColor": "black", "symbolStrokeWidth": 1.5, "symbolOpacity": 1, "labelFont": "Liberation Serif", "labelFontSize": 22, "labelColor": "black", "rowPadding": 8, "labelOffset": 9, "padding": 0}}}},
     {"transform": [{"filter": "datum.s == 'No plasmid'"}], "mark": {"type": "line", "interpolate": "monotone", "color": "#b4b4b4", "strokeWidth": 1.6}}
    ]},
   {"data": {"name": "gate"}, "transform": [{"filter": "datum.p == 'TL'"}],
    "encoding": {
     "x": {"field": "x1", "type": "quantitative", "scale": {"domain": [0, 320], "nice": false, "zero": false}, "axis": {"title": "GFP fluorescence", "titlePadding": 13.5, "labelFlush": false, "labelOverlap": false, "zindex": 1, "values": [3.7,9.7,15.3,20.3,25.3,30.3,35.3,39.7,47,48.5,50,51.5,53,54.5,56,57.5,59,60.5,62,70.3,77,83,88.7,93.7,98.7,103,108.5,130.3,143.1,152.1,159.2,164.9,169.8,174,177.7,181,200.6,212,220.1,226.4,231.6,235.9,239.7,243,246,264.5,275.3,283,289,293.9,298,301.5,304.7,307.5], "labelExpr": "datum.value == 9.7 ? '-10³' : datum.value == 53 ? '0' : datum.value == 108.5 ? '10³' : datum.value == 181 ? '10⁴' : datum.value == 246 ? '10⁵' : datum.value == 307.5 ? '10⁶' : ''", "tickSize": {"condition": [{"test": "datum.value == 108.5 || datum.value == 181 || datum.value == 246 || datum.value == 307.5", "value": 7}, {"test": "datum.value == 9.7 || (datum.value >= 46 && datum.value <= 63)", "value": 6}], "value": 4}, "labelOffset": {"condition": {"test": "datum.value == 307.5", "value": 3}, "value": 9}}},
     "y": {"field": "y", "type": "quantitative", "scale": {"domain": [0, 2740], "nice": false}, "axis": {"title": "Number of cells", "titlePadding": 14, "labelOverlap": false, "zindex": 1, "values": [0,100,200,300,400,500,600,700,800,900,1000,1100,1200,1300,1400,1500,1600,1700,1800,1900,2000,2100,2200,2300,2400,2500,2600,2700], "labelExpr": "datum.value % 500 != 0 ? '' : datum.value == 0 ? '0' : datum.value == 500 ? '500' : format(datum.value / 1000, '.1f') + 'K'", "tickSize": {"condition": {"test": "datum.value % 500 == 0", "value": 10}, "value": 5}}}
    },
    "layer": [
     {"mark": {"type": "rule", "color": "#22a322", "strokeWidth": 2.5, "clip": true}, "encoding": {"x2": {"field": "x2"}}},
     {"mark": {"type": "tick", "orient": "vertical", "color": "#22a322", "size": 12, "thickness": 2.5, "clip": true}}
    ]},
   {"data": {"values": [{}]},
    "encoding": {
     "x": {"datum": 295, "type": "quantitative", "scale": {"domain": [0, 320], "nice": false, "zero": false}, "axis": {"title": "GFP fluorescence", "titlePadding": 13.5, "labelFlush": false, "labelOverlap": false, "zindex": 1, "values": [3.7,9.7,15.3,20.3,25.3,30.3,35.3,39.7,47,48.5,50,51.5,53,54.5,56,57.5,59,60.5,62,70.3,77,83,88.7,93.7,98.7,103,108.5,130.3,143.1,152.1,159.2,164.9,169.8,174,177.7,181,200.6,212,220.1,226.4,231.6,235.9,239.7,243,246,264.5,275.3,283,289,293.9,298,301.5,304.7,307.5], "labelExpr": "datum.value == 9.7 ? '-10³' : datum.value == 53 ? '0' : datum.value == 108.5 ? '10³' : datum.value == 181 ? '10⁴' : datum.value == 246 ? '10⁵' : datum.value == 307.5 ? '10⁶' : ''", "tickSize": {"condition": [{"test": "datum.value == 108.5 || datum.value == 181 || datum.value == 246 || datum.value == 307.5", "value": 7}, {"test": "datum.value == 9.7 || (datum.value >= 46 && datum.value <= 63)", "value": 6}], "value": 4}, "labelOffset": {"condition": {"test": "datum.value == 307.5", "value": 3}, "value": 9}}},
     "y": {"datum": 1528, "type": "quantitative", "scale": {"domain": [0, 2740], "nice": false}, "axis": {"title": "Number of cells", "titlePadding": 14, "labelOverlap": false, "zindex": 1, "values": [0,100,200,300,400,500,600,700,800,900,1000,1100,1200,1300,1400,1500,1600,1700,1800,1900,2000,2100,2200,2300,2400,2500,2600,2700], "labelExpr": "datum.value % 500 != 0 ? '' : datum.value == 0 ? '0' : datum.value == 500 ? '500' : format(datum.value / 1000, '.1f') + 'K'", "tickSize": {"condition": {"test": "datum.value % 500 == 0", "value": 10}, "value": 5}}}
    },
    "mark": {"type": "text", "text": "GFP+", "font": "Liberation Sans", "fontSize": 10.5, "dy": -12, "baseline": "alphabetic", "align": "center"}},
   {"data": {"values": [{}]},
    "encoding": {
     "x": {"datum": 254, "type": "quantitative", "scale": {"domain": [0, 320], "nice": false, "zero": false}, "axis": {"title": "GFP fluorescence", "titlePadding": 13.5, "labelFlush": false, "labelOverlap": false, "zindex": 1, "values": [3.7,9.7,15.3,20.3,25.3,30.3,35.3,39.7,47,48.5,50,51.5,53,54.5,56,57.5,59,60.5,62,70.3,77,83,88.7,93.7,98.7,103,108.5,130.3,143.1,152.1,159.2,164.9,169.8,174,177.7,181,200.6,212,220.1,226.4,231.6,235.9,239.7,243,246,264.5,275.3,283,289,293.9,298,301.5,304.7,307.5], "labelExpr": "datum.value == 9.7 ? '-10³' : datum.value == 53 ? '0' : datum.value == 108.5 ? '10³' : datum.value == 181 ? '10⁴' : datum.value == 246 ? '10⁵' : datum.value == 307.5 ? '10⁶' : ''", "tickSize": {"condition": [{"test": "datum.value == 108.5 || datum.value == 181 || datum.value == 246 || datum.value == 307.5", "value": 7}, {"test": "datum.value == 9.7 || (datum.value >= 46 && datum.value <= 63)", "value": 6}], "value": 4}, "labelOffset": {"condition": {"test": "datum.value == 307.5", "value": 3}, "value": 9}}},
     "y": {"datum": 2517, "type": "quantitative", "scale": {"domain": [0, 2740], "nice": false}, "axis": {"title": "Number of cells", "titlePadding": 14, "labelOverlap": false, "zindex": 1, "values": [0,100,200,300,400,500,600,700,800,900,1000,1100,1200,1300,1400,1500,1600,1700,1800,1900,2000,2100,2200,2300,2400,2500,2600,2700], "labelExpr": "datum.value % 500 != 0 ? '' : datum.value == 0 ? '0' : datum.value == 500 ? '500' : format(datum.value / 1000, '.1f') + 'K'", "tickSize": {"condition": {"test": "datum.value % 500 == 0", "value": 10}, "value": 5}}}
    },
    "layer": [
     {"mark": {"type": "text", "text": "P", "font": "Liberation Serif", "fontStyle": "italic", "fontSize": 26, "align": "left", "baseline": "alphabetic"}},
     {"mark": {"type": "text", "text": "BAD", "font": "Liberation Serif", "fontStyle": "italic", "fontSize": 20, "align": "left", "baseline": "alphabetic", "dx": 16.5, "dy": 8}}
    ]}
  ]},
 {"width": 328, "height": 326,
  "title": {"text": "P. fluorescens"},
  "layer": [
   {"data": {"name": "hist"}, "transform": [{"filter": "datum.p == 'TR'"}],
    "encoding": {
     "x": {"field": "x", "type": "quantitative", "scale": {"domain": [0, 328], "nice": false, "zero": false}, "axis": {"title": "GFP fluorescence", "titlePadding": 4.5, "labelFlush": false, "labelOverlap": false, "zindex": 1, "values": [1.5,7,12,17.5,23,28,33,38,43,49,50.6,52.2,53.8,55.4,57,58.6,60.2,61.8,63.4,65,73.7,82,87.7,93.7,98.7,103,107,110.3,113.5,135.6,148.6,157.7,164.9,170.7,175.6,179.9,183.6,187,206.7,218.2,226.4,232.8,238,242.4,246.2,249.5,252.5,271.3,282.3,290.1,296.2,301.1,305.3,308.9,312.1,315], "labelExpr": "datum.value == 12 ? '-10³' : datum.value == 55.4 ? '0' : datum.value == 113.5 ? '10³' : datum.value == 187 ? '10⁴' : datum.value == 252.5 ? '10⁵' : datum.value == 315 ? '10⁶' : ''", "tickSize": {"condition": [{"test": "datum.value == 113.5 || datum.value == 187 || datum.value == 252.5 || datum.value == 315", "value": 7}, {"test": "datum.value == 12 || (datum.value >= 48 && datum.value <= 66)", "value": 6}], "value": 4}, "labelOffset": {"condition": {"test": "datum.value == 315", "value": 4}, "value": 9}}},
     "y": {"field": "n", "type": "quantitative", "stack": null, "scale": {"domain": [0, 2740], "nice": false}, "axis": {"title": "Number of cells", "titlePadding": 9, "labelOverlap": false, "zindex": 1, "values": [0,100,200,300,400,500,600,700,800,900,1000,1100,1200,1300,1400,1500,1600,1700,1800,1900,2000,2100,2200,2300,2400,2500,2600,2700], "labelExpr": "datum.value % 500 != 0 ? '' : datum.value == 0 ? '0' : datum.value == 500 ? '500' : format(datum.value / 1000, '.1f') + 'K'", "tickSize": {"condition": {"test": "datum.value % 500 == 0", "value": 10}, "value": 5}}}
    },
    "layer": [
     {"transform": [{"filter": "datum.s == '10 mM inducer'"}], "mark": {"type": "area", "interpolate": "monotone", "color": "#88bbf8"}},
     {"transform": [{"filter": "datum.s == '10 mM inducer'"}], "mark": {"type": "line", "interpolate": "monotone", "color": "#1e78f5", "strokeWidth": 1.6}},
     {"transform": [{"filter": "datum.s == 'No inducer'"}], "mark": {"type": "area", "interpolate": "monotone", "color": "rgba(255,255,0,0.5)"}},
     {"transform": [{"filter": "datum.s == 'No inducer'"}], "mark": {"type": "line", "interpolate": "monotone", "color": "#eeee00", "strokeWidth": 1.6}},
     {"transform": [{"filter": "datum.s == 'No plasmid'"}], "mark": {"type": "area", "interpolate": "monotone", "color": "rgba(198,198,198,0.5)"}},
     {"transform": [{"filter": "datum.s == 'No plasmid'"}], "mark": {"type": "line", "interpolate": "monotone", "color": "#b4b4b4", "strokeWidth": 1.6}}
    ]},
   {"data": {"name": "gate"}, "transform": [{"filter": "datum.p == 'TR'"}],
    "encoding": {
     "x": {"field": "x1", "type": "quantitative", "scale": {"domain": [0, 328], "nice": false, "zero": false}, "axis": {"title": "GFP fluorescence", "titlePadding": 4.5, "labelFlush": false, "labelOverlap": false, "zindex": 1, "values": [1.5,7,12,17.5,23,28,33,38,43,49,50.6,52.2,53.8,55.4,57,58.6,60.2,61.8,63.4,65,73.7,82,87.7,93.7,98.7,103,107,110.3,113.5,135.6,148.6,157.7,164.9,170.7,175.6,179.9,183.6,187,206.7,218.2,226.4,232.8,238,242.4,246.2,249.5,252.5,271.3,282.3,290.1,296.2,301.1,305.3,308.9,312.1,315], "labelExpr": "datum.value == 12 ? '-10³' : datum.value == 55.4 ? '0' : datum.value == 113.5 ? '10³' : datum.value == 187 ? '10⁴' : datum.value == 252.5 ? '10⁵' : datum.value == 315 ? '10⁶' : ''", "tickSize": {"condition": [{"test": "datum.value == 113.5 || datum.value == 187 || datum.value == 252.5 || datum.value == 315", "value": 7}, {"test": "datum.value == 12 || (datum.value >= 48 && datum.value <= 66)", "value": 6}], "value": 4}, "labelOffset": {"condition": {"test": "datum.value == 315", "value": 4}, "value": 9}}},
     "y": {"field": "y", "type": "quantitative", "scale": {"domain": [0, 2740], "nice": false}, "axis": {"title": "Number of cells", "titlePadding": 9, "labelOverlap": false, "zindex": 1, "values": [0,100,200,300,400,500,600,700,800,900,1000,1100,1200,1300,1400,1500,1600,1700,1800,1900,2000,2100,2200,2300,2400,2500,2600,2700], "labelExpr": "datum.value % 500 != 0 ? '' : datum.value == 0 ? '0' : datum.value == 500 ? '500' : format(datum.value / 1000, '.1f') + 'K'", "tickSize": {"condition": {"test": "datum.value % 500 == 0", "value": 10}, "value": 5}}}
    },
    "layer": [
     {"mark": {"type": "rule", "color": "#22a322", "strokeWidth": 2.5, "clip": true}, "encoding": {"x2": {"field": "x2"}}},
     {"mark": {"type": "tick", "orient": "vertical", "color": "#22a322", "size": 12, "thickness": 2.5, "clip": true}},
     {"mark": {"type": "tick", "orient": "vertical", "color": "#22a322", "size": 12, "thickness": 2.5, "clip": true}, "encoding": {"x": {"field": "x2"}}}
    ]},
   {"data": {"values": [{}]},
    "encoding": {
     "x": {"datum": 300, "type": "quantitative", "scale": {"domain": [0, 328], "nice": false, "zero": false}, "axis": {"title": "GFP fluorescence", "titlePadding": 4.5, "labelFlush": false, "labelOverlap": false, "zindex": 1, "values": [1.5,7,12,17.5,23,28,33,38,43,49,50.6,52.2,53.8,55.4,57,58.6,60.2,61.8,63.4,65,73.7,82,87.7,93.7,98.7,103,107,110.3,113.5,135.6,148.6,157.7,164.9,170.7,175.6,179.9,183.6,187,206.7,218.2,226.4,232.8,238,242.4,246.2,249.5,252.5,271.3,282.3,290.1,296.2,301.1,305.3,308.9,312.1,315], "labelExpr": "datum.value == 12 ? '-10³' : datum.value == 55.4 ? '0' : datum.value == 113.5 ? '10³' : datum.value == 187 ? '10⁴' : datum.value == 252.5 ? '10⁵' : datum.value == 315 ? '10⁶' : ''", "tickSize": {"condition": [{"test": "datum.value == 113.5 || datum.value == 187 || datum.value == 252.5 || datum.value == 315", "value": 7}, {"test": "datum.value == 12 || (datum.value >= 48 && datum.value <= 66)", "value": 6}], "value": 4}, "labelOffset": {"condition": {"test": "datum.value == 315", "value": 4}, "value": 9}}},
     "y": {"datum": 1518, "type": "quantitative", "scale": {"domain": [0, 2740], "nice": false}, "axis": {"title": "Number of cells", "titlePadding": 9, "labelOverlap": false, "zindex": 1, "values": [0,100,200,300,400,500,600,700,800,900,1000,1100,1200,1300,1400,1500,1600,1700,1800,1900,2000,2100,2200,2300,2400,2500,2600,2700], "labelExpr": "datum.value % 500 != 0 ? '' : datum.value == 0 ? '0' : datum.value == 500 ? '500' : format(datum.value / 1000, '.1f') + 'K'", "tickSize": {"condition": {"test": "datum.value % 500 == 0", "value": 10}, "value": 5}}}
    },
    "mark": {"type": "text", "text": "GFP+", "font": "Liberation Sans", "fontSize": 10.5, "dy": -12, "baseline": "alphabetic", "align": "center"}},
   {"data": {"values": [{}]},
    "encoding": {
     "x": {"datum": 263.7, "type": "quantitative", "scale": {"domain": [0, 328], "nice": false, "zero": false}, "axis": {"title": "GFP fluorescence", "titlePadding": 4.5, "labelFlush": false, "labelOverlap": false, "zindex": 1, "values": [1.5,7,12,17.5,23,28,33,38,43,49,50.6,52.2,53.8,55.4,57,58.6,60.2,61.8,63.4,65,73.7,82,87.7,93.7,98.7,103,107,110.3,113.5,135.6,148.6,157.7,164.9,170.7,175.6,179.9,183.6,187,206.7,218.2,226.4,232.8,238,242.4,246.2,249.5,252.5,271.3,282.3,290.1,296.2,301.1,305.3,308.9,312.1,315], "labelExpr": "datum.value == 12 ? '-10³' : datum.value == 55.4 ? '0' : datum.value == 113.5 ? '10³' : datum.value == 187 ? '10⁴' : datum.value == 252.5 ? '10⁵' : datum.value == 315 ? '10⁶' : ''", "tickSize": {"condition": [{"test": "datum.value == 113.5 || datum.value == 187 || datum.value == 252.5 || datum.value == 315", "value": 7}, {"test": "datum.value == 12 || (datum.value >= 48 && datum.value <= 66)", "value": 6}], "value": 4}, "labelOffset": {"condition": {"test": "datum.value == 315", "value": 4}, "value": 9}}},
     "y": {"datum": 2528, "type": "quantitative", "scale": {"domain": [0, 2740], "nice": false}, "axis": {"title": "Number of cells", "titlePadding": 9, "labelOverlap": false, "zindex": 1, "values": [0,100,200,300,400,500,600,700,800,900,1000,1100,1200,1300,1400,1500,1600,1700,1800,1900,2000,2100,2200,2300,2400,2500,2600,2700], "labelExpr": "datum.value % 500 != 0 ? '' : datum.value == 0 ? '0' : datum.value == 500 ? '500' : format(datum.value / 1000, '.1f') + 'K'", "tickSize": {"condition": {"test": "datum.value % 500 == 0", "value": 10}, "value": 5}}}
    },
    "layer": [
     {"mark": {"type": "text", "text": "P", "font": "Liberation Serif", "fontStyle": "italic", "fontSize": 26, "align": "left", "baseline": "alphabetic"}},
     {"mark": {"type": "text", "text": "BAD", "font": "Liberation Serif", "fontStyle": "italic", "fontSize": 20, "align": "left", "baseline": "alphabetic", "dx": 16.5, "dy": 8}}
    ]}
  ]}
 ]},
{"spacing": 29,
 "hconcat": [
 {"width": 320, "height": 317,
  "layer": [
   {"data": {"name": "hist"}, "transform": [{"filter": "datum.p == 'BL'"}],
    "encoding": {
     "x": {"field": "x", "type": "quantitative", "scale": {"domain": [0, 320], "nice": false, "zero": false}, "axis": {"title": "GFP fluorescence", "titlePadding": 7.5, "labelFlush": false, "labelOverlap": false, "zindex": 1, "values": [3.7,9.7,15.3,20.3,25.3,30.3,35.3,39.7,47,48.5,50,51.5,53,54.5,56,57.5,59,60.5,62,70.3,77,83,88.7,93.7,98.7,103,108.5,130.3,143.1,152.1,159.2,164.9,169.8,174,177.7,181,200.6,212,220.1,226.4,231.6,235.9,239.7,243,246,264.5,275.3,283,289,293.9,298,301.5,304.7,307.5], "labelExpr": "datum.value == 9.7 ? '-10³' : datum.value == 53 ? '0' : datum.value == 108.5 ? '10³' : datum.value == 181 ? '10⁴' : datum.value == 246 ? '10⁵' : datum.value == 307.5 ? '10⁶' : ''", "tickSize": {"condition": [{"test": "datum.value == 108.5 || datum.value == 181 || datum.value == 246 || datum.value == 307.5", "value": 7}, {"test": "datum.value == 9.7 || (datum.value >= 46 && datum.value <= 63)", "value": 6}], "value": 4}, "labelOffset": {"condition": {"test": "datum.value == 307.5", "value": 3}, "value": 9}}},
     "y": {"field": "n", "type": "quantitative", "stack": null, "scale": {"domain": [0, 2740], "nice": false}, "axis": {"title": "Number of cells", "titlePadding": 14, "labelOverlap": false, "zindex": 1, "values": [0,100,200,300,400,500,600,700,800,900,1000,1100,1200,1300,1400,1500,1600,1700,1800,1900,2000,2100,2200,2300,2400,2500,2600,2700], "labelExpr": "datum.value % 500 != 0 ? '' : datum.value == 0 ? '0' : datum.value == 500 ? '500' : format(datum.value / 1000, '.1f') + 'K'", "tickSize": {"condition": {"test": "datum.value % 500 == 0", "value": 10}, "value": 5}}}
    },
    "layer": [
     {"transform": [{"filter": "datum.s == '10 mM inducer'"}], "mark": {"type": "area", "interpolate": "monotone", "color": "#88bbf8"}},
     {"transform": [{"filter": "datum.s == '10 mM inducer'"}], "mark": {"type": "line", "interpolate": "monotone", "color": "#1e78f5", "strokeWidth": 1.6}},
     {"transform": [{"filter": "datum.s == 'No inducer'"}], "mark": {"type": "area", "interpolate": "monotone", "color": "rgba(255,255,0,0.5)"}},
     {"transform": [{"filter": "datum.s == 'No inducer'"}], "mark": {"type": "line", "interpolate": "monotone", "color": "#eeee00", "strokeWidth": 1.6}},
     {"transform": [{"filter": "datum.s == 'No plasmid'"}], "mark": {"type": "area", "interpolate": "monotone", "color": "rgba(198,198,198,0.5)"}},
     {"transform": [{"filter": "datum.s == 'No plasmid'"}], "mark": {"type": "line", "interpolate": "monotone", "color": "#b4b4b4", "strokeWidth": 1.6}}
    ]},
   {"data": {"name": "gate"}, "transform": [{"filter": "datum.p == 'BL'"}],
    "encoding": {
     "x": {"field": "x1", "type": "quantitative", "scale": {"domain": [0, 320], "nice": false, "zero": false}, "axis": {"title": "GFP fluorescence", "titlePadding": 7.5, "labelFlush": false, "labelOverlap": false, "zindex": 1, "values": [3.7,9.7,15.3,20.3,25.3,30.3,35.3,39.7,47,48.5,50,51.5,53,54.5,56,57.5,59,60.5,62,70.3,77,83,88.7,93.7,98.7,103,108.5,130.3,143.1,152.1,159.2,164.9,169.8,174,177.7,181,200.6,212,220.1,226.4,231.6,235.9,239.7,243,246,264.5,275.3,283,289,293.9,298,301.5,304.7,307.5], "labelExpr": "datum.value == 9.7 ? '-10³' : datum.value == 53 ? '0' : datum.value == 108.5 ? '10³' : datum.value == 181 ? '10⁴' : datum.value == 246 ? '10⁵' : datum.value == 307.5 ? '10⁶' : ''", "tickSize": {"condition": [{"test": "datum.value == 108.5 || datum.value == 181 || datum.value == 246 || datum.value == 307.5", "value": 7}, {"test": "datum.value == 9.7 || (datum.value >= 46 && datum.value <= 63)", "value": 6}], "value": 4}, "labelOffset": {"condition": {"test": "datum.value == 307.5", "value": 3}, "value": 9}}},
     "y": {"field": "y", "type": "quantitative", "scale": {"domain": [0, 2740], "nice": false}, "axis": {"title": "Number of cells", "titlePadding": 14, "labelOverlap": false, "zindex": 1, "values": [0,100,200,300,400,500,600,700,800,900,1000,1100,1200,1300,1400,1500,1600,1700,1800,1900,2000,2100,2200,2300,2400,2500,2600,2700], "labelExpr": "datum.value % 500 != 0 ? '' : datum.value == 0 ? '0' : datum.value == 500 ? '500' : format(datum.value / 1000, '.1f') + 'K'", "tickSize": {"condition": {"test": "datum.value % 500 == 0", "value": 10}, "value": 5}}}
    },
    "layer": [
     {"mark": {"type": "rule", "color": "#22a322", "strokeWidth": 2.5, "clip": true}, "encoding": {"x2": {"field": "x2"}}},
     {"mark": {"type": "tick", "orient": "vertical", "color": "#22a322", "size": 12, "thickness": 2.5, "clip": true}}
    ]},
   {"data": {"values": [{}]},
    "encoding": {
     "x": {"datum": 296, "type": "quantitative", "scale": {"domain": [0, 320], "nice": false, "zero": false}, "axis": {"title": "GFP fluorescence", "titlePadding": 7.5, "labelFlush": false, "labelOverlap": false, "zindex": 1, "values": [3.7,9.7,15.3,20.3,25.3,30.3,35.3,39.7,47,48.5,50,51.5,53,54.5,56,57.5,59,60.5,62,70.3,77,83,88.7,93.7,98.7,103,108.5,130.3,143.1,152.1,159.2,164.9,169.8,174,177.7,181,200.6,212,220.1,226.4,231.6,235.9,239.7,243,246,264.5,275.3,283,289,293.9,298,301.5,304.7,307.5], "labelExpr": "datum.value == 9.7 ? '-10³' : datum.value == 53 ? '0' : datum.value == 108.5 ? '10³' : datum.value == 181 ? '10⁴' : datum.value == 246 ? '10⁵' : datum.value == 307.5 ? '10⁶' : ''", "tickSize": {"condition": [{"test": "datum.value == 108.5 || datum.value == 181 || datum.value == 246 || datum.value == 307.5", "value": 7}, {"test": "datum.value == 9.7 || (datum.value >= 46 && datum.value <= 63)", "value": 6}], "value": 4}, "labelOffset": {"condition": {"test": "datum.value == 307.5", "value": 3}, "value": 9}}},
     "y": {"datum": 1532, "type": "quantitative", "scale": {"domain": [0, 2740], "nice": false}, "axis": {"title": "Number of cells", "titlePadding": 14, "labelOverlap": false, "zindex": 1, "values": [0,100,200,300,400,500,600,700,800,900,1000,1100,1200,1300,1400,1500,1600,1700,1800,1900,2000,2100,2200,2300,2400,2500,2600,2700], "labelExpr": "datum.value % 500 != 0 ? '' : datum.value == 0 ? '0' : datum.value == 500 ? '500' : format(datum.value / 1000, '.1f') + 'K'", "tickSize": {"condition": {"test": "datum.value % 500 == 0", "value": 10}, "value": 5}}}
    },
    "mark": {"type": "text", "text": "GFP+", "font": "Liberation Sans", "fontSize": 10.5, "dy": -12, "baseline": "alphabetic", "align": "center"}},
   {"data": {"values": [{}]},
    "encoding": {
     "x": {"datum": 268, "type": "quantitative", "scale": {"domain": [0, 320], "nice": false, "zero": false}, "axis": {"title": "GFP fluorescence", "titlePadding": 7.5, "labelFlush": false, "labelOverlap": false, "zindex": 1, "values": [3.7,9.7,15.3,20.3,25.3,30.3,35.3,39.7,47,48.5,50,51.5,53,54.5,56,57.5,59,60.5,62,70.3,77,83,88.7,93.7,98.7,103,108.5,130.3,143.1,152.1,159.2,164.9,169.8,174,177.7,181,200.6,212,220.1,226.4,231.6,235.9,239.7,243,246,264.5,275.3,283,289,293.9,298,301.5,304.7,307.5], "labelExpr": "datum.value == 9.7 ? '-10³' : datum.value == 53 ? '0' : datum.value == 108.5 ? '10³' : datum.value == 181 ? '10⁴' : datum.value == 246 ? '10⁵' : datum.value == 307.5 ? '10⁶' : ''", "tickSize": {"condition": [{"test": "datum.value == 108.5 || datum.value == 181 || datum.value == 246 || datum.value == 307.5", "value": 7}, {"test": "datum.value == 9.7 || (datum.value >= 46 && datum.value <= 63)", "value": 6}], "value": 4}, "labelOffset": {"condition": {"test": "datum.value == 307.5", "value": 3}, "value": 9}}},
     "y": {"datum": 2535, "type": "quantitative", "scale": {"domain": [0, 2740], "nice": false}, "axis": {"title": "Number of cells", "titlePadding": 14, "labelOverlap": false, "zindex": 1, "values": [0,100,200,300,400,500,600,700,800,900,1000,1100,1200,1300,1400,1500,1600,1700,1800,1900,2000,2100,2200,2300,2400,2500,2600,2700], "labelExpr": "datum.value % 500 != 0 ? '' : datum.value == 0 ? '0' : datum.value == 500 ? '500' : format(datum.value / 1000, '.1f') + 'K'", "tickSize": {"condition": {"test": "datum.value % 500 == 0", "value": 10}, "value": 5}}}
    },
    "layer": [
     {"mark": {"type": "text", "text": "P", "font": "Liberation Serif", "fontStyle": "italic", "fontSize": 26, "align": "left", "baseline": "alphabetic"}},
     {"mark": {"type": "text", "text": "xut", "font": "Liberation Serif", "fontStyle": "italic", "fontSize": 20, "align": "left", "baseline": "alphabetic", "dx": 16.5, "dy": 8}}
    ]}
  ]},
 {"width": 328, "height": 326,
  "layer": [
   {"data": {"name": "hist"}, "transform": [{"filter": "datum.p == 'BR'"}],
    "encoding": {
     "x": {"field": "x", "type": "quantitative", "scale": {"domain": [0, 328], "nice": false, "zero": false}, "axis": {"title": "GFP fluorescence", "titlePadding": 4.5, "labelPadding": 8, "labelFlush": false, "labelOverlap": false, "zindex": 1, "values": [1.5,7,12,17.5,23,28,33,38,43,49,50.6,52.2,53.8,55.4,57,58.6,60.2,61.8,63.4,65,73.7,82,87.7,93.7,98.7,103,107,110.3,113.5,135.6,148.6,157.7,164.9,170.7,175.6,179.9,183.6,187,206.7,218.2,226.4,232.8,238,242.4,246.2,249.5,252.5,271.3,282.3,290.1,296.2,301.1,305.3,308.9,312.1,315], "labelExpr": "datum.value == 12 ? '-10³' : datum.value == 55.4 ? '0' : datum.value == 113.5 ? '10³' : datum.value == 187 ? '10⁴' : datum.value == 252.5 ? '10⁵' : datum.value == 315 ? '10⁶' : ''", "tickSize": {"condition": [{"test": "datum.value == 113.5 || datum.value == 187 || datum.value == 252.5 || datum.value == 315", "value": 7}, {"test": "datum.value == 12 || (datum.value >= 48 && datum.value <= 66)", "value": 6}], "value": 4}, "labelOffset": {"condition": {"test": "datum.value == 315", "value": 4}, "value": 9}}},
     "y": {"field": "n", "type": "quantitative", "stack": null, "scale": {"domain": [0, 2740], "nice": false}, "axis": {"title": "Number of cells", "titlePadding": 9, "labelOverlap": false, "zindex": 1, "values": [0,100,200,300,400,500,600,700,800,900,1000,1100,1200,1300,1400,1500,1600,1700,1800,1900,2000,2100,2200,2300,2400,2500,2600,2700], "labelExpr": "datum.value % 500 != 0 ? '' : datum.value == 0 ? '0' : datum.value == 500 ? '500' : format(datum.value / 1000, '.1f') + 'K'", "tickSize": {"condition": {"test": "datum.value % 500 == 0", "value": 10}, "value": 5}}}
    },
    "layer": [
     {"transform": [{"filter": "datum.s == '10 mM inducer'"}], "mark": {"type": "area", "interpolate": "monotone", "color": "#88bbf8"}},
     {"transform": [{"filter": "datum.s == '10 mM inducer'"}], "mark": {"type": "line", "interpolate": "monotone", "color": "#1e78f5", "strokeWidth": 1.6}},
     {"transform": [{"filter": "datum.s == 'No inducer'"}], "mark": {"type": "area", "interpolate": "monotone", "color": "rgba(255,255,0,0.5)"}},
     {"transform": [{"filter": "datum.s == 'No inducer'"}], "mark": {"type": "line", "interpolate": "monotone", "color": "#eeee00", "strokeWidth": 1.6}},
     {"transform": [{"filter": "datum.s == 'No plasmid'"}], "mark": {"type": "area", "interpolate": "monotone", "color": "rgba(198,198,198,0.5)"}},
     {"transform": [{"filter": "datum.s == 'No plasmid'"}], "mark": {"type": "line", "interpolate": "monotone", "color": "#b4b4b4", "strokeWidth": 1.6}}
    ]},
   {"data": {"name": "gate"}, "transform": [{"filter": "datum.p == 'BR'"}],
    "encoding": {
     "x": {"field": "x1", "type": "quantitative", "scale": {"domain": [0, 328], "nice": false, "zero": false}, "axis": {"title": "GFP fluorescence", "titlePadding": 4.5, "labelPadding": 8, "labelFlush": false, "labelOverlap": false, "zindex": 1, "values": [1.5,7,12,17.5,23,28,33,38,43,49,50.6,52.2,53.8,55.4,57,58.6,60.2,61.8,63.4,65,73.7,82,87.7,93.7,98.7,103,107,110.3,113.5,135.6,148.6,157.7,164.9,170.7,175.6,179.9,183.6,187,206.7,218.2,226.4,232.8,238,242.4,246.2,249.5,252.5,271.3,282.3,290.1,296.2,301.1,305.3,308.9,312.1,315], "labelExpr": "datum.value == 12 ? '-10³' : datum.value == 55.4 ? '0' : datum.value == 113.5 ? '10³' : datum.value == 187 ? '10⁴' : datum.value == 252.5 ? '10⁵' : datum.value == 315 ? '10⁶' : ''", "tickSize": {"condition": [{"test": "datum.value == 113.5 || datum.value == 187 || datum.value == 252.5 || datum.value == 315", "value": 7}, {"test": "datum.value == 12 || (datum.value >= 48 && datum.value <= 66)", "value": 6}], "value": 4}, "labelOffset": {"condition": {"test": "datum.value == 315", "value": 4}, "value": 9}}},
     "y": {"field": "y", "type": "quantitative", "scale": {"domain": [0, 2740], "nice": false}, "axis": {"title": "Number of cells", "titlePadding": 9, "labelOverlap": false, "zindex": 1, "values": [0,100,200,300,400,500,600,700,800,900,1000,1100,1200,1300,1400,1500,1600,1700,1800,1900,2000,2100,2200,2300,2400,2500,2600,2700], "labelExpr": "datum.value % 500 != 0 ? '' : datum.value == 0 ? '0' : datum.value == 500 ? '500' : format(datum.value / 1000, '.1f') + 'K'", "tickSize": {"condition": {"test": "datum.value % 500 == 0", "value": 10}, "value": 5}}}
    },
    "layer": [
     {"mark": {"type": "rule", "color": "#22a322", "strokeWidth": 2.5, "clip": true}, "encoding": {"x2": {"field": "x2"}}},
     {"mark": {"type": "tick", "orient": "vertical", "color": "#22a322", "size": 12, "thickness": 2.5, "clip": true}}
    ]},
   {"data": {"values": [{}]},
    "encoding": {
     "x": {"datum": 305, "type": "quantitative", "scale": {"domain": [0, 328], "nice": false, "zero": false}, "axis": {"title": "GFP fluorescence", "titlePadding": 4.5, "labelPadding": 8, "labelFlush": false, "labelOverlap": false, "zindex": 1, "values": [1.5,7,12,17.5,23,28,33,38,43,49,50.6,52.2,53.8,55.4,57,58.6,60.2,61.8,63.4,65,73.7,82,87.7,93.7,98.7,103,107,110.3,113.5,135.6,148.6,157.7,164.9,170.7,175.6,179.9,183.6,187,206.7,218.2,226.4,232.8,238,242.4,246.2,249.5,252.5,271.3,282.3,290.1,296.2,301.1,305.3,308.9,312.1,315], "labelExpr": "datum.value == 12 ? '-10³' : datum.value == 55.4 ? '0' : datum.value == 113.5 ? '10³' : datum.value == 187 ? '10⁴' : datum.value == 252.5 ? '10⁵' : datum.value == 315 ? '10⁶' : ''", "tickSize": {"condition": [{"test": "datum.value == 113.5 || datum.value == 187 || datum.value == 252.5 || datum.value == 315", "value": 7}, {"test": "datum.value == 12 || (datum.value >= 48 && datum.value <= 66)", "value": 6}], "value": 4}, "labelOffset": {"condition": {"test": "datum.value == 315", "value": 4}, "value": 9}}},
     "y": {"datum": 1527, "type": "quantitative", "scale": {"domain": [0, 2740], "nice": false}, "axis": {"title": "Number of cells", "titlePadding": 9, "labelOverlap": false, "zindex": 1, "values": [0,100,200,300,400,500,600,700,800,900,1000,1100,1200,1300,1400,1500,1600,1700,1800,1900,2000,2100,2200,2300,2400,2500,2600,2700], "labelExpr": "datum.value % 500 != 0 ? '' : datum.value == 0 ? '0' : datum.value == 500 ? '500' : format(datum.value / 1000, '.1f') + 'K'", "tickSize": {"condition": {"test": "datum.value % 500 == 0", "value": 10}, "value": 5}}}
    },
    "mark": {"type": "text", "text": "GFP+", "font": "Liberation Sans", "fontSize": 10.5, "dy": -12, "baseline": "alphabetic", "align": "center"}},
   {"data": {"values": [{}]},
    "encoding": {
     "x": {"datum": 278, "type": "quantitative", "scale": {"domain": [0, 328], "nice": false, "zero": false}, "axis": {"title": "GFP fluorescence", "titlePadding": 4.5, "labelPadding": 8, "labelFlush": false, "labelOverlap": false, "zindex": 1, "values": [1.5,7,12,17.5,23,28,33,38,43,49,50.6,52.2,53.8,55.4,57,58.6,60.2,61.8,63.4,65,73.7,82,87.7,93.7,98.7,103,107,110.3,113.5,135.6,148.6,157.7,164.9,170.7,175.6,179.9,183.6,187,206.7,218.2,226.4,232.8,238,242.4,246.2,249.5,252.5,271.3,282.3,290.1,296.2,301.1,305.3,308.9,312.1,315], "labelExpr": "datum.value == 12 ? '-10³' : datum.value == 55.4 ? '0' : datum.value == 113.5 ? '10³' : datum.value == 187 ? '10⁴' : datum.value == 252.5 ? '10⁵' : datum.value == 315 ? '10⁶' : ''", "tickSize": {"condition": [{"test": "datum.value == 113.5 || datum.value == 187 || datum.value == 252.5 || datum.value == 315", "value": 7}, {"test": "datum.value == 12 || (datum.value >= 48 && datum.value <= 66)", "value": 6}], "value": 4}, "labelOffset": {"condition": {"test": "datum.value == 315", "value": 4}, "value": 9}}},
     "y": {"datum": 2493, "type": "quantitative", "scale": {"domain": [0, 2740], "nice": false}, "axis": {"title": "Number of cells", "titlePadding": 9, "labelOverlap": false, "zindex": 1, "values": [0,100,200,300,400,500,600,700,800,900,1000,1100,1200,1300,1400,1500,1600,1700,1800,1900,2000,2100,2200,2300,2400,2500,2600,2700], "labelExpr": "datum.value % 500 != 0 ? '' : datum.value == 0 ? '0' : datum.value == 500 ? '500' : format(datum.value / 1000, '.1f') + 'K'", "tickSize": {"condition": {"test": "datum.value % 500 == 0", "value": 10}, "value": 5}}}
    },
    "layer": [
     {"mark": {"type": "text", "text": "P", "font": "Liberation Serif", "fontStyle": "italic", "fontSize": 26, "align": "left", "baseline": "alphabetic"}},
     {"mark": {"type": "text", "text": "xut", "font": "Liberation Serif", "fontStyle": "italic", "fontSize": 20, "align": "left", "baseline": "alphabetic", "dx": 16.5, "dy": 8}}
    ]}
  ]}
 ]}
]
}
